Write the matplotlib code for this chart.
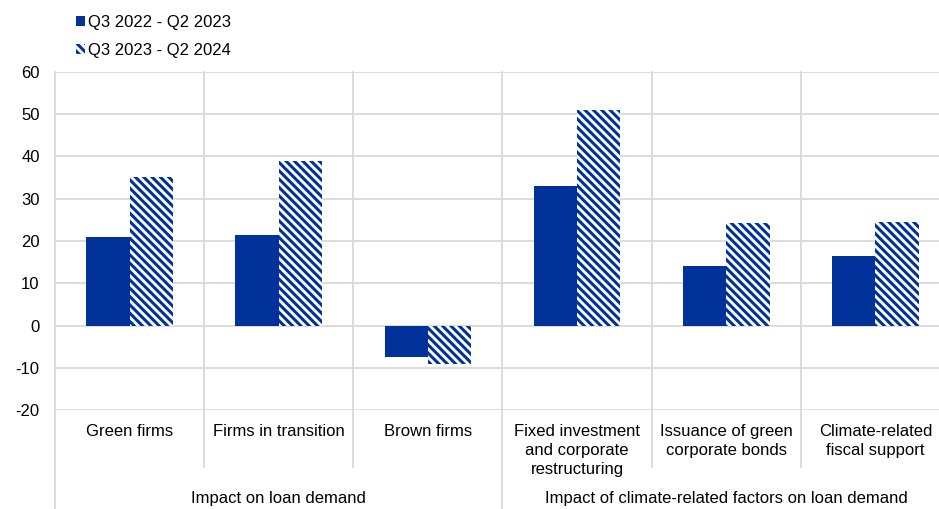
import matplotlib.pyplot as plt
import matplotlib.transforms as mtransforms
from matplotlib.patches import Patch
import numpy as np

plt.rcParams['font.family'] = ['Liberation Sans', 'DejaVu Sans']
plt.rcParams['axes.unicode_minus'] = False
plt.rcParams['hatch.linewidth'] = 2.2

categories = ['Green firms', 'Firms in transition', 'Brown firms',
              'Fixed investment\nand corporate\nrestructuring',
              'Issuance of green\ncorporate bonds',
              'Climate-related\nfiscal support']
groups = ['Impact on loan demand', 'Impact of climate-related factors on loan demand']
series_names = ['Q3 2022 - Q2 2023', 'Q3 2023 - Q2 2024']
period_1 = [21.0, 21.5, -7.5, 33.0, 14.0, 16.5]
period_2 = [35.2, 39.0, -9.0, 51.0, 24.2, 24.5]

blue = '#003299'
grid_col = '#d9d9d9'
stripes = '\\' * 4
fs = 12

fig = plt.figure(figsize=(9.39, 5.09), dpi=100)
ax = fig.add_axes([55 / 939, 1 - 410 / 509, 895 / 939, 338 / 509])

x = np.arange(len(categories)) + 0.5
w = 0.29
ax.bar(x - w / 2, period_1, w, color=blue, zorder=3)
ax.bar(x + w / 2, period_2, w, color='white', edgecolor=blue, hatch=stripes,
       linewidth=0, zorder=3)

ax.set_xlim(0, 6)
ax.set_ylim(-20, 60)
ax.set_yticks(range(-20, 61, 10))
ax.set_xticks([])
ax.tick_params(axis='y', length=0, labelsize=fs, pad=11)
ax.grid(axis='y', color=grid_col, linewidth=1.3, zorder=0)
for s in ax.spines.values():
    s.set_visible(False)

# category dividers, running down past the axis into the label area
trans = mtransforms.blended_transform_factory(ax.transData, fig.transFigure)
top = 1 - 72 / 509
for xv in range(6):
    bottom = 0.0 if xv in (0, 3) else 1 - 467 / 509
    ax.plot([xv, xv], [bottom, top], color=grid_col, linewidth=1.3,
            transform=trans, clip_on=False, zorder=1)

for xv, label in zip(x, categories):
    ax.text(xv, 1 - 424 / 509, label, transform=trans, ha='center', va='top',
            fontsize=fs, linespacing=1.32)

ax.text(1.5, 1 - 499 / 509, groups[0], transform=trans, ha='center',
        va='center', fontsize=fs)
ax.text(4.5, 1 - 499 / 509, groups[1], transform=trans, ha='center',
        va='center', fontsize=fs)

handles = [Patch(facecolor=blue, edgecolor=blue, linewidth=0),
           Patch(facecolor='white', edgecolor=blue, hatch=stripes, linewidth=0)]
fig.legend(handles, series_names, loc='upper left', bbox_to_anchor=(61 / 939, 1.0),
           frameon=False, fontsize=fs, handlelength=0.55, handleheight=0.55,
           handletextpad=0.15, labelspacing=0.8)

fig.savefig('out.png', dpi=100)
